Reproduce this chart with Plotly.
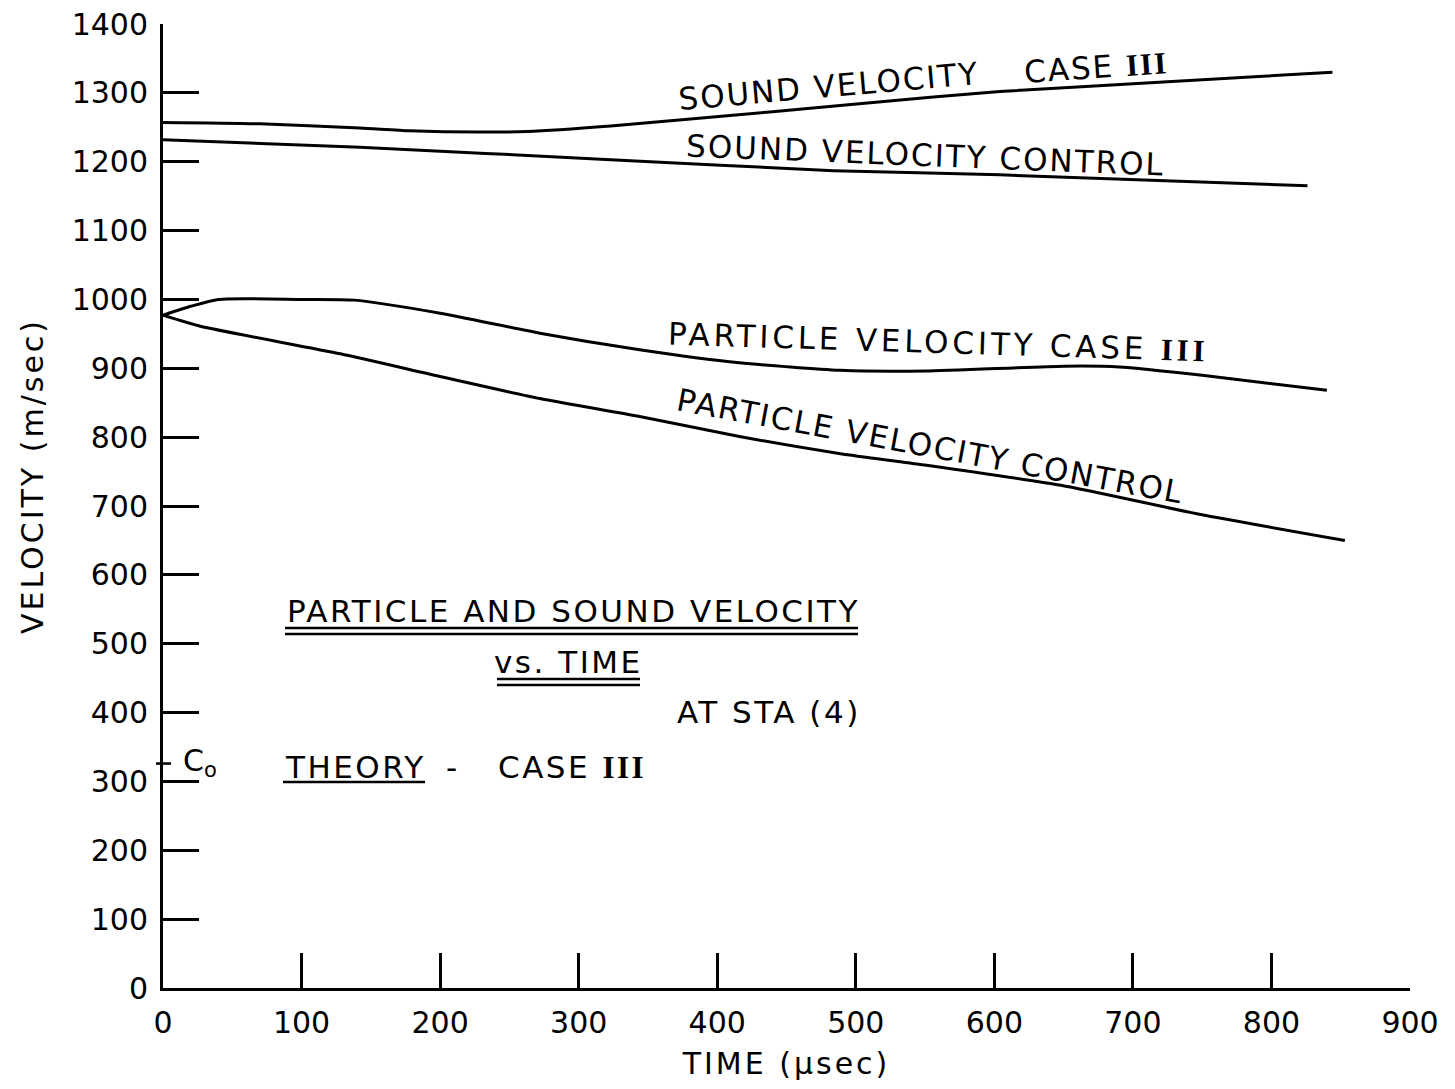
import plotly.graph_objects as go

# ---------------- data ----------------
sound_case3_t = [0, 70, 142, 178, 227, 263, 323, 436, 556, 604, 725, 844]
sound_case3_v = [1257, 1255, 1249, 1245, 1243, 1244, 1252, 1272, 1294, 1302, 1316, 1330]

sound_ctrl_t = [0, 142, 323, 484, 604, 826]
sound_ctrl_v = [1232, 1221, 1203, 1187, 1181, 1165]

part_case3_t = [0, 20, 40, 100, 138, 200, 272, 344, 416, 489, 550, 650, 690, 750, 840]
part_case3_v = [977, 990, 1000, 1000, 999, 980, 951, 927, 908, 897, 896, 903, 902, 890, 868]

part_ctrl_t = [0, 27, 128, 200, 272, 344, 416, 489, 548, 648, 748, 853]
part_ctrl_v = [977, 961, 921, 888, 856, 830, 801, 776, 760, 730, 688, 650]

C0 = 326  # reference sound speed marker on the velocity axis

x_ticks = [0, 100, 200, 300, 400, 500, 600, 700, 800, 900]
y_ticks = [0, 100, 200, 300, 400, 500, 600, 700, 800, 900, 1000, 1100, 1200, 1300, 1400]

# ---------------- layout geometry ----------------
W, H = 1455, 1089
L, R, T, B = 163, 45, 24, 101
PW, PH = W - L - R, H - T - B

def px(x):
    return (x - L) / PW

def py(y):
    return (H - B - y) / PH

FONT = "DejaVu Sans"
ink = "black"

def ls(text, sp=2):
    return f'<span style="letter-spacing:{sp}px">{text}</span>'

fig = go.Figure()
for t, v in [(sound_case3_t, sound_case3_v), (sound_ctrl_t, sound_ctrl_v),
             (part_case3_t, part_case3_v), (part_ctrl_t, part_ctrl_v)]:
    fig.add_trace(go.Scatter(x=t, y=v, mode="lines",
                             line=dict(color=ink, width=3, shape="spline", smoothing=0.6),
                             showlegend=False, hoverinfo="skip"))

# C0 marker: short tick crossing the velocity axis
fig.add_shape(type="line", xref="paper", yref="y", x0=px(156), x1=px(171), y0=C0, y1=C0,
              line=dict(color=ink, width=2.5))

III = '<span style="font-family:Liberation Serif;font-weight:bold">III</span>'

def ann(text, x, y, size=31, angle=0, sp=2, anchor="center"):
    fig.add_annotation(text=ls(text, sp), xref="paper", yref="paper", x=px(x), y=py(y),
                       xanchor=anchor, yanchor="middle", showarrow=False,
                       textangle=angle, font=dict(family=FONT, size=size, color=ink))

# curve labels
ann("SOUND VELOCITY", 829, 86, angle=-5)
ann("CASE " + III, 1096, 67, angle=-4)
ann("SOUND VELOCITY CONTROL", 925, 155, angle=2.3)
ann("PARTICLE VELOCITY CASE " + III, 938, 342, angle=1.8, sp=3.8)
ann("PARTICLE VELOCITY CONTROL", 930, 446, angle=10.5)

# title block
ann("PARTICLE AND SOUND VELOCITY", 573, 611, sp=2.5)
ann("vs. TIME", 568, 662, sp=2.5)
ann("AT STA (4)", 769, 712, sp=2.5)
ann("THEORY", 355, 767, sp=2.5)
ann("-", 452, 767)
ann("CASE " + III, 572, 767, sp=2.5)
ann("C<sub>o</sub>", 200, 762, size=30, sp=0)

# y axis title
ann("VELOCITY (m/sec)", 32, 476, size=30, angle=-90, sp=3)

def hline(x0, x1, y, w=2.5):
    fig.add_shape(type="line", xref="paper", yref="paper", x0=px(x0), x1=px(x1),
                  y0=py(y), y1=py(y), line=dict(color=ink, width=w))

hline(285, 858, 628)
hline(285, 858, 634)
hline(497, 640, 679)
hline(497, 640, 685)
hline(283, 425, 782)

axis_common = dict(showline=True, linecolor=ink, linewidth=3, ticks="inside",
                   tickcolor=ink, tickwidth=2.5, showgrid=False, zeroline=False,
                   automargin=False,
                   tickfont=dict(family=FONT, size=30, color=ink),
                   title_font=dict(family=FONT, size=30, color=ink))

fig.update_xaxes(range=[0, 900], tickvals=x_ticks, ticklen=35,
                 title_text=ls("TIME (μsec)", 3),
                 title_standoff=14, ticklabelstandoff=6, **axis_common)
fig.update_yaxes(range=[0, 1400], tickvals=y_ticks, ticklen=36,
                 ticklabelstandoff=6, **axis_common)

fig.update_layout(width=W, height=H, margin=dict(l=L, r=R, t=T, b=B),
                  paper_bgcolor="white", plot_bgcolor="white",
                  font=dict(family=FONT, color=ink))

fig.write_html("out.html", config={"displayModeBar": False},
               post_script="document.body.style.margin='0';")
